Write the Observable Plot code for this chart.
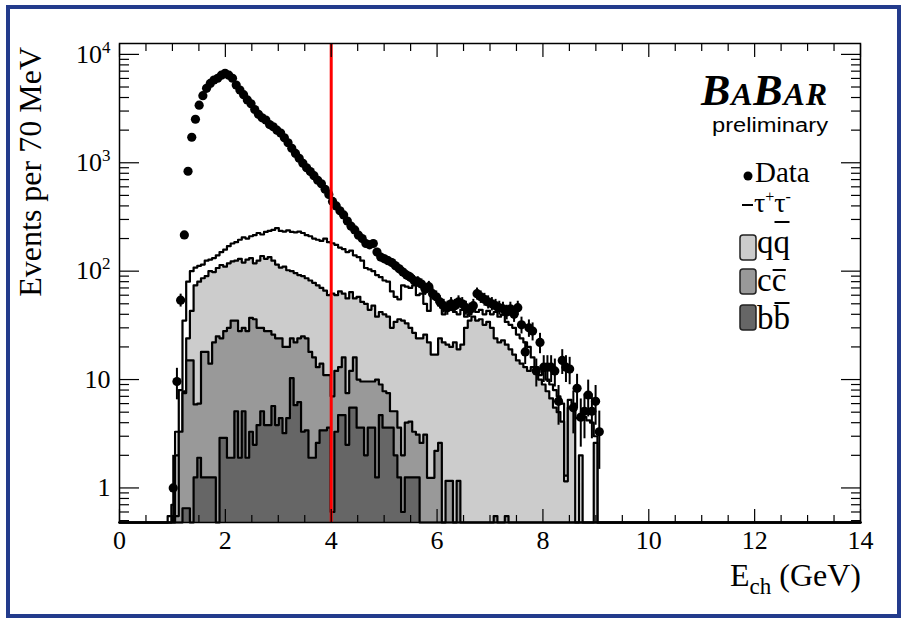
<!DOCTYPE html>
<html><head><meta charset="utf-8">
<script src="https://cdn.jsdelivr.net/npm/d3@7"></script>
<script src="https://cdn.jsdelivr.net/npm/@observablehq/plot@0.6"></script>
<style>
body{margin:0;background:#fff;}
#wrap{position:relative;width:904px;height:623px;overflow:hidden;background:#fff;}
#chart{position:absolute;left:0;top:0;}
#overlay{position:absolute;left:0;top:0;pointer-events:none;}
</style></head>
<body><div id="wrap"><div id="chart"></div><svg id="overlay" width="904" height="623"></svg></div>
<script>
// ---- data: 70 MeV bins, first listed bin index (bin i covers [0.07 i, 0.07 (i+1)] GeV)
const firstBin = 13;
const binWidth = 0.07;
const nBins = 200;
// data counts, bins 13..130
const dataCounts = [0,1.0,9.6,54,216,835,1720,2520,3400,4160,
 4860,5390,5800,6020,6430,6680,6430,6020,5210,4680,
 4250,3800,3500,3100,2800,2600,2480,2250,2150,2000,
 1880,1700,1530,1360,1220,1100,990,900,830,760,
 690,640,570,510,440,400,360,330,290,260,
 240,215,200,180,175,180,150,135,130,125,
 120,112,105,98,92,88,82,80,76,68,
 72,62,58,52,48,46,50,48,52,50,
 46,44,48,62,58,55,52,50,48,46,
 45,42,45,40,46,32,18,30,28,12,
 22,13,13,13,12,6.3,15,13,12.5,5.5,
 8.3,4.5,5.1,7.2,5.1,6.3,3.3,0];
// stacked MC levels (tau+tau- on top of q qbar on top of c cbar on top of b bbar), bins 13..130
const tauStack = [0.55,0.7,3.3,8,35,80,100,108,112,115,
 125,128,132,140,150,158,170,180,185,195,
 205,200,210,215,225,218,230,235,240,250,
 235,232,238,230,228,232,225,215,210,200,
 195,190,200,185,181,175,165,160,150,155,
 140,135,125,107,104,100,92,88,82,80,
 65,58,55,74,72,70,74,60,62,50,
 43,60,55,48,40,46,44,42,40,44,
 38,40,45,42,44,40,43,40,42,38,
 40,34,32,30,26,24,22,20,16,13,
 11,12,10,9,8,7,6,1.3,6.5,6,
 4.4,4.4,4.5,4.2,4.0,3.0,0,0];
const qqStack = [0,0.55,2.0,3.3,7.8,24,43,74,80,86,
 90,100,98,107,114,110,118,123,125,130,
 120,128,132,118,125,138,130,135,125,115,
 108,110,102,100,96,92,90,86,82,78,
 74,70,66,60,62,60,65,62,56,64,
 56,58,52,50,44,48,38,42,40,38,
 30,34,36,35,33,30,27,24,24,26,
 22,17,17,24,22,21,20,22,19,21,
 30,35,38,35,36,32,34,30,24,22,
 23,21,19,17,15,14,13,12,13,12,
 10,9,7.8,6.7,5.5,5.0,4.1,1.15,5.5,5.5,
 0,2.0,0,0,0,2.6,0,0];
const ccStack = [0,0,0.55,3.3,7.5,15,15,5.9,6,18,
 18,14,22,25,24,28,30,35,35,28,
 30,28,37,36,30,30,28,28,26,24,
 24,20,20,24,22,24,25,24,18,16,
 13,14,11,11,7,12,13,16,7.5,12,
 16,10,9.6,9.6,9.6,9.6,10,9,7.8,7.5,
 5.1,5.1,3.6,2.0,4.0,4.1,3.3,3.1,2.6,3.1,
 1.24,1.24,2.2,2.6,0,1.16,1.16,0,1.16,0,
 0,0,0,0,0,0,0,0,0.55,0,
 0,0.55,0,0,0,0,0,0,0,0,
 0,0,0,0,0,0,0,0,0,0,
 0,0,0,0,0,0,0,0];
const bbStack = [0,0,0,0,0.65,0.65,0,1.25,1.9,1.25,
 1.25,1.25,1.25,0,2.9,2.9,1.9,1.9,5.1,1.9,
 5.1,1.9,3.3,2.5,3.8,5.1,3.8,3.8,5.7,3.8,
 4.4,3.2,4.4,10.3,5.8,6.2,3.3,3.4,1.9,1.9,
 2.6,3.4,3.4,3.6,0.6,3.3,4.7,4.7,2.5,5.5,
 5.5,3.6,3.6,2.0,3.6,3.6,1.25,4.7,3.6,3.6,
 3.6,2.0,1.25,0.6,1.25,1.25,1.25,1.25,0,0,
 0,0,0,0,0,0,0,0,0,0,
 0,0,0,0,0,0,0,0,0,0,
 0,0,0,0,0,0,0,0,0,0,
 0,0,0,0,0,0,0,0,0,0,
 0,0,0,0,0,0,0,0];
const layerNames = ["tautau","qq","cc","bb"];
const layerFills = ["#ffffff","#cccccc","#999999","#666666"];
const xTicks = [0,2,4,6,8,10,12,14];
const yTicks = [1,10,100,1000,10000];
const yTickLabels = ["1","10","10^2","10^3","10^4"];
const cutValue = 4;
const yMin = 0.48, yMax = 12600;

// ---- build tables
function stepTable(arr){
  const out = [];
  for (let i = 0; i < nBins; i++) {
    const j = i - firstBin;
    const v = (j >= 0 && j < arr.length) ? arr[j] : 0;
    out.push({x: i * binWidth, y: Math.max(v, yMin)});
  }
  out.push({x: nBins * binWidth, y: out[out.length - 1].y});
  return out;
}
const layers = [tauStack, qqStack, ccStack, bbStack].map(stepTable);
const points = dataCounts.map((v, j) => ({
  x: (firstBin + j + 0.5) * binWidth, y: v,
  lo: Math.max(v - Math.sqrt(v), yMin), hi: v + Math.sqrt(v)
})).filter(d => d.y > 0);

const xMinor = d3.range(0, 14.001, 0.5).filter(v => !xTicks.includes(v));
const yMinor = [];
for (const dec of [0.1, 1, 10, 100, 1000]) for (let k = 2; k <= 9; k++) { const v = k * dec; if (v > yMin && v < yMax) yMinor.push(v); }

const marks = [];
layers.forEach((t, k) => {
  marks.push(Plot.areaY(t, {x: "x", y1: yMin, y2: "y", curve: "step-after", fill: layerFills[k]}));
  marks.push(Plot.line(t, {x: "x", y: "y", curve: "step-after", stroke: "black", strokeWidth: 2.2}));
});
marks.push(Plot.ruleX(points, {x: "x", y1: "lo", y2: "hi", stroke: "black", strokeWidth: 2}));
marks.push(Plot.dot(points, {x: "x", y: "y", r: 4.6, fill: "black"}));
marks.push(Plot.ruleX([cutValue], {stroke: "#ff0000", strokeWidth: 3}));
marks.push(Plot.frame({stroke: "black", strokeWidth: 1.5}));
for (const a of ["bottom", "top"]) {
  marks.push(Plot.axisX({anchor: a, ticks: xTicks, tickSize: -13, fill: "none", label: null, strokeWidth: 1.2}));
  marks.push(Plot.axisX({anchor: a, ticks: xMinor, tickSize: -7, fill: "none", label: null, strokeWidth: 1.2}));
}
for (const a of ["left", "right"]) {
  marks.push(Plot.axisY({anchor: a, ticks: yTicks, tickSize: -20, fill: "none", label: null, strokeWidth: 1.2}));
  marks.push(Plot.axisY({anchor: a, ticks: yMinor, tickSize: -10, fill: "none", label: null, strokeWidth: 1.2}));
}
marks.push(Plot.axisX({anchor: "bottom", ticks: xTicks, tickSize: 0, tickPadding: 8, fontSize: 26, label: null, tickFormat: d => String(d)}));
marks.push(Plot.axisY({anchor: "left", ticks: yTicks, tickSize: 0, tickPadding: 9, fontSize: 26, label: null, tickFormat: d => yTickLabels[yTicks.indexOf(d)]}));

const plot = Plot.plot({
  width: 904, height: 623,
  marginLeft: 119, marginRight: 44, marginTop: 43, marginBottom: 101,
  x: {domain: [0, 14]},
  y: {type: "log", domain: [yMin, yMax]},
  style: {fontFamily: "'Liberation Serif', 'Times New Roman', serif", fontSize: "26px", color: "black", background: "transparent", overflow: "visible"},
  marks
});
document.getElementById("chart").appendChild(plot);

// superscripts in y tick labels
plot.querySelectorAll('g[aria-label="y-axis tick label"] text').forEach(t => {
  const s = t.textContent;
  if (s.includes("^")) {
    const [b, e] = s.split("^");
    t.textContent = "";
    const t1 = document.createElementNS("http://www.w3.org/2000/svg", "tspan"); t1.textContent = b;
    const t2 = document.createElementNS("http://www.w3.org/2000/svg", "tspan"); t2.textContent = e;
    t2.setAttribute("font-size", "17"); t2.setAttribute("dy", "-0.6em");
    t.appendChild(t1); t.appendChild(t2);
  }
});

// ---- overlay: titles, logo, legend, canvas border
const ov = d3.select("#overlay");
const serif = "'Liberation Serif', 'Times New Roman', serif";
ov.append("rect").attr("x", 8).attr("y", 7).attr("width", 891).attr("height", 609)
  .attr("fill", "none").attr("stroke", "#233b8c").attr("stroke-width", 4);
ov.append("text").attr("transform", "translate(41,47) rotate(-90)").attr("text-anchor", "end")
  .attr("font-family", serif).attr("font-size", 32).text("Events per 70 MeV");
const xt = ov.append("text").attr("x", 861).attr("y", 586).attr("text-anchor", "end")
  .attr("font-family", serif).attr("font-size", 32);
xt.append("tspan").text("E");
xt.append("tspan").attr("font-size", 23).attr("dy", 8).text("ch");
xt.append("tspan").attr("dy", -8).text(" (GeV)");

const logo = ov.append("text").attr("x", 701).attr("y", 105).attr("font-family", serif)
  .attr("font-weight", "bold").attr("font-style", "italic").attr("textLength", 126);
[["B",44],["A",32],["B",44],["AR",32]].forEach(([s, f]) => logo.append("tspan").attr("font-size", f).text(s));
ov.append("text").attr("x", 712).attr("y", 132)
  .attr("font-family", "'Liberation Sans', Arial, sans-serif").attr("font-size", 20)
  .attr("textLength", 116).attr("lengthAdjust", "spacingAndGlyphs").text("preliminary");

ov.append("circle").attr("cx", 748).attr("cy", 176).attr("r", 4.5).attr("fill", "black");
ov.append("text").attr("x", 755).attr("y", 182).attr("font-family", serif).attr("font-size", 29).text("Data");
ov.append("line").attr("x1", 742).attr("x2", 753).attr("y1", 205).attr("y2", 205).attr("stroke", "black").attr("stroke-width", 2);
const tt = ov.append("text").attr("x", 754).attr("y", 212).attr("font-family", serif).attr("font-size", 28);
tt.append("tspan").text("τ");
tt.append("tspan").attr("font-size", 16).attr("dy", -10).text("+");
tt.append("tspan").attr("dy", 10).text("τ");
tt.append("tspan").attr("font-size", 16).attr("dy", -10).text("-");
const legendBoxes = [["q", 235, 253, 222, layerFills[1]], ["c", 269, 291, 270, layerFills[2]], ["b", 305, 329, 303, layerFills[3]]];
legendBoxes.forEach(([q, top, base, barY, col]) => {
  ov.append("rect").attr("x", 740).attr("y", top).attr("width", 16).attr("height", 25).attr("rx", 3)
    .attr("fill", col).attr("stroke", "#222").attr("stroke-width", 1.5);
  const t = ov.append("text").attr("x", 757).attr("y", base).attr("font-family", serif).attr("font-size", 33).text(q + q);
  const n = t.node();
  const x0 = n.getStartPositionOfChar(1).x, x1 = n.getEndPositionOfChar(1).x;
  ov.append("line").attr("x1", x0 + 1).attr("x2", x1 - 0.5).attr("y1", barY).attr("y2", barY)
    .attr("stroke", "black").attr("stroke-width", 2);
});
</script>
</body></html>
